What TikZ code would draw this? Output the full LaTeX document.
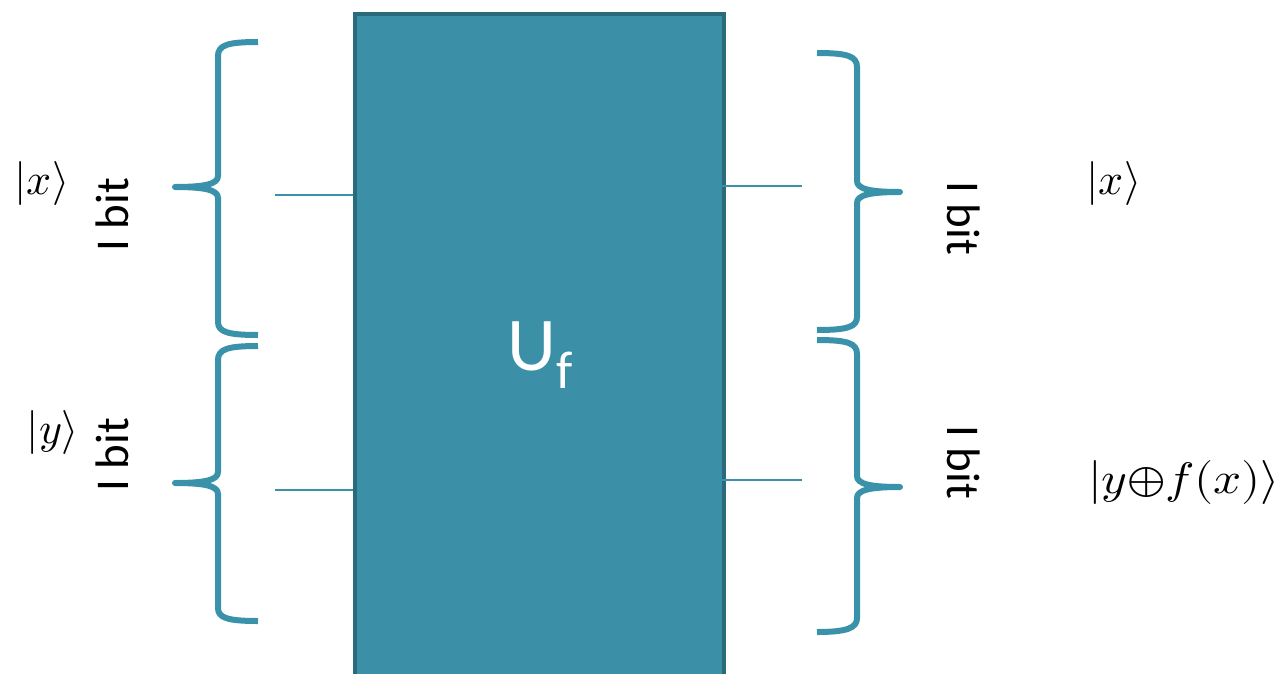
\documentclass[tikz,border=0pt]{standalone}
\usepackage{fontspec}
\usepackage{unicode-math}
\setsansfont{Carlito}
\begin{document}
\begin{tikzpicture}[x=1pt,y=-1pt]
\definecolor{teal1}{HTML}{3A92AA}
\definecolor{tealbox}{HTML}{3B90A7}
\definecolor{tealdark}{HTML}{2A6A7B}
\tikzset{
  brace/.style={draw=teal1, line width=6pt, line cap=butt, line join=round},
  wire/.style={draw=teal1, line width=2.5pt},
  gate/.style={draw=tealdark, fill=tealbox, line width=4pt, inner sep=0pt},
  ket/.style={inner sep=0pt, font=\fontsize{44}{50}\selectfont},
  bits/.style={inner sep=0pt, font=\sffamily\fontsize{47}{56}\selectfont},
}
\useasboundingbox (0,0) rectangle (1285,673);
\clip (0,0) rectangle (1285,673);
% gate box
\node (box) [gate, anchor=north west, minimum width=369pt, minimum height=700pt] at (353,12) {};
\node (uf) at (540,355) [inner sep=0pt, text=white, font=\sffamily\fontsize{76}{84}\selectfont] {U\textsubscript{f}};
% wire end coordinates
\coordinate (li1) at (275,195);
\coordinate (bi1) at (353,195);
\coordinate (li2) at (275,490);
\coordinate (bi2) at (353,490);
\coordinate (bo1) at (722,186);
\coordinate (ro1) at (802,186);
\coordinate (bo2) at (722,480);
\coordinate (ro2) at (802,480);
\draw[wire] (li1) -- (bi1);
\draw[wire] (li2) -- (bi2);
\draw[wire] (bo1) -- (ro1);
\draw[wire] (bo2) -- (ro2);
% left braces
\draw[brace] (258,42) .. controls (228,42) and (218,45) .. (218,56) -- (218,176)
  .. controls (218,184) and (205,187) .. (175,187)
  .. controls (205,187) and (218,190) .. (218,198) -- (218,322)
  .. controls (218,332) and (228,335) .. (258,335);
\draw[brace] (258,346) .. controls (228,346) and (218,349) .. (218,360) -- (218,472)
  .. controls (218,480) and (205,483) .. (175,483)
  .. controls (205,483) and (218,486) .. (218,494) -- (218,608)
  .. controls (218,618) and (228,621) .. (258,621);
% right braces
\draw[brace] (817,53) .. controls (847,53) and (857,56) .. (857,67) -- (857,181)
  .. controls (857,189) and (870,192) .. (900,192)
  .. controls (870,192) and (857,195) .. (857,203) -- (857,317)
  .. controls (857,327) and (847,330) .. (817,330);
\draw[brace] (817,340) .. controls (847,340) and (857,343) .. (857,354) -- (857,476)
  .. controls (857,484) and (870,487) .. (900,487)
  .. controls (870,487) and (857,490) .. (857,498) -- (857,618)
  .. controls (857,628) and (847,632) .. (817,632);
% labels
\node (xin) [ket] at (42,183) {$|x\rangle$};
\node (yin) [ket] at (53,432) {$|y\rangle$};
\node (xout) [ket] at (1114,183) {$|x\rangle$};
\node (yout) [ket, xscale=1.12] at (1184,482) {$|y{\oplus}f(x)\rangle$};
\node (b1) [bits, rotate=90] at (112,215) {I bit};
\node (b2) [bits, rotate=90] at (112,455) {I bit};
\node (b3) [bits, rotate=-90] at (964,218) {I bit};
\node (b4) [bits, rotate=-90] at (964,462) {I bit};
\end{tikzpicture}
\end{document}
